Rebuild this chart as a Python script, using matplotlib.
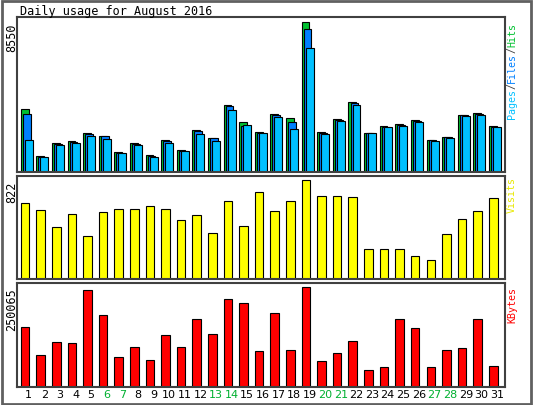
import numpy as np
import matplotlib.pyplot as plt
from matplotlib.patches import Rectangle

days = list(range(1, 32))
weekend = [6, 7, 13, 14, 20, 21, 27, 28]

hits = [3617, 904, 1671, 1749, 2201, 2083, 1140, 1671, 963, 1808, 1258, 2378, 1966, 3852, 2850, 2260,
        3322, 3086, 8550, 2260, 3027, 3970, 2201, 2614, 2732, 2968, 1848, 2024, 3263, 3381, 2614]
files = [3322, 860, 1620, 1700, 2150, 2030, 1100, 1620, 920, 1760, 1220, 2320, 1920, 3780, 2653, 2220,
         3270, 2850, 8157, 2210, 2980, 3920, 2201, 2580, 2690, 2920, 1810, 1990, 3230, 3330, 2580]
pages = [1848, 845, 1553, 1671, 2083, 1907, 1081, 1553, 845, 1671, 1199, 2142, 1789, 3558, 2673, 2201,
         3145, 2437, 7095, 2142, 2909, 3852, 2201, 2555, 2614, 2850, 1789, 1966, 3204, 3263, 2555]
visits = [632, 571, 433, 536, 355, 554, 580, 580, 606, 580, 493, 528, 381, 649, 441, 718,
          562, 649, 822, 692, 692, 684, 251, 251, 251, 190, 156, 372, 502, 562, 675]
kbytes = [150913, 79843, 111430, 108798, 243040, 179867, 74579, 100901, 66682, 129855, 100901, 169338,
          132487, 219350, 208821, 90372, 185131, 93004, 250065, 64050, 85108, 114062, 42993, 50889,
          169338, 148281, 50889, 93004, 98269, 169338, 53521]

W, H = 533, 405
fig = plt.figure(figsize=(W / 100, H / 100), dpi=100)
fig.patch.set_facecolor("white")
fig.patches.append(Rectangle((0.003, 0.003), 0.994, 0.994, transform=fig.transFigure,
                             fill=False, edgecolor="#606060", linewidth=2))
mono = "DejaVu Sans Mono"


def px_axes(x0, y0, x1, y1):
    return fig.add_axes([x0 / W, 1 - y1 / H, (x1 - x0) / W, (y1 - y0) / H])


def style(ax, ymax):
    ax.set_xlim(0.23, 31.5)
    ax.set_ylim(0, ymax)
    ax.set_xticks([])
    ax.set_yticks([])
    for s in ax.spines.values():
        s.set_color("#404040")
        s.set_linewidth(1.5)


x = np.array(days, dtype=float)

ax1 = px_axes(17, 17, 505, 172)
ax1.bar(x - 0.53, hits, width=0.5, align="edge", color="#00C030", edgecolor="black", linewidth=0.8)
ax1.bar(x - 0.40, files, width=0.5, align="edge", color="#0080FF", edgecolor="black", linewidth=0.8)
ax1.bar(x - 0.27, pages, width=0.51, align="edge", color="#00C0FF", edgecolor="black", linewidth=0.8)
style(ax1, max(hits) * 1.035)

ax2 = px_axes(17, 176, 505, 279)
ax2.bar(x - 0.53, visits, width=0.55, align="edge", color="#FFFF00", edgecolor="black", linewidth=0.8)
style(ax2, max(visits) * 1.04)

ax3 = px_axes(17, 283, 505, 387)
ax3.bar(x - 0.53, kbytes, width=0.55, align="edge", color="#FF0000", edgecolor="black", linewidth=0.8)
style(ax3, max(kbytes) * 1.04)

fig.text(20 / W, 1 - 11 / H, "Daily usage for August 2016", family=mono, fontsize=8.5,
         va="center", ha="left")

# left max labels
for ytop, val in [(23, max(hits)), (182, max(visits)), (288, max(kbytes))]:
    fig.text(12 / W, 1 - ytop / H, str(val), family=mono, fontsize=8.5, rotation=90,
             ha="center", va="top")

# right legend labels (font size 7.2 -> ~6 px per char)
def right_label(parts, ybottom):
    y = ybottom
    for txt, col in parts:
        fig.text(512 / W, 1 - y / H, txt, family=mono, fontsize=7.2, rotation=90,
                 ha="center", va="bottom", color=col)
        y -= 6.0 * len(txt)

right_label([("Pages", "#00C0FF"), ("/", "#404040"), ("Files", "#0080FF"),
             ("/", "#404040"), ("Hits", "#00C030")], 119)
right_label([("Visits", "#E8E800")], 213)
right_label([("KBytes", "#FF0000")], 323)

# day labels
x0_px, step = 28.7, (497 - 28.7) / 30
for d in days:
    col = "#00B030" if d in weekend else "black"
    fig.text((x0_px + (d - 1) * step) / W, 1 - 395 / H, str(d), family="DejaVu Sans", fontsize=8,
             ha="center", va="center", color=col)

fig.savefig("out.png", dpi=100)
